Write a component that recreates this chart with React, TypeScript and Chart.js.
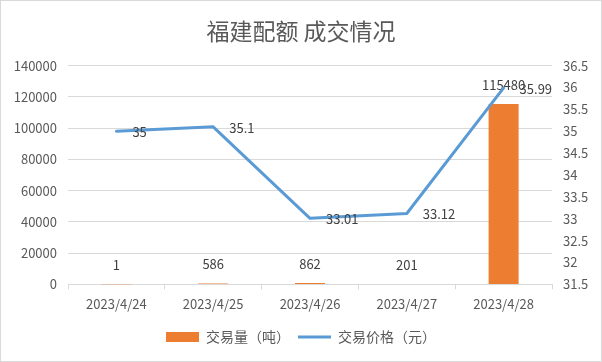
import React, { useEffect, useRef } from "react";
import { Chart, registerables } from "chart.js";

Chart.register(...registerables);

const titleText = "福建配额 成交情况";
const categories = ["2023/4/24", "2023/4/25", "2023/4/26", "2023/4/27", "2023/4/28"];
const volumeLabel = "交易量（吨）";
const priceLabel = "交易价格（元）";
const volume = [1, 586, 862, 201, 115480];
const price = [35, 35.1, 33.01, 33.12, 35.99];
const leftMin = 0;
const leftMax = 140000;
const leftStep = 20000;
const rightMin = 31.5;
const rightMax = 36.5;
const rightStep = 0.5;

const FONT = "'Noto Sans CJK SC', 'Noto Sans', sans-serif";
const TEXT = "#595959";
const GRID = "#D9D9D9";

const labelPlugin = {
  id: "valueLabels",
  afterDatasetDraw(chart: any, args: any) {
    if (args.index !== 0) return;
    const ctx = chart.ctx;
    ctx.save();
    ctx.font = `13px ${FONT}`;
    ctx.fillStyle = "#404040";
    ctx.textBaseline = "middle";
    ctx.textAlign = "center";
    chart.getDatasetMeta(0).data.forEach((el: any, i: number) => {
      ctx.fillText(String(volume[i]), el.x, el.y - 19);
    });
    ctx.restore();
  },
  afterDatasetsDraw(chart: any) {
    const ctx = chart.ctx;
    ctx.save();
    ctx.font = `13px ${FONT}`;
    ctx.fillStyle = "#404040";
    ctx.textBaseline = "middle";
    ctx.textAlign = "left";
    chart.getDatasetMeta(1).data.forEach((el: any, i: number) => {
      ctx.fillText(String(price[i]), el.x + 16, el.y + 1);
    });
    ctx.restore();
  },
};

export default function App() {
  const ref = useRef<HTMLCanvasElement>(null);
  useEffect(() => {
    const chart = new Chart(ref.current as HTMLCanvasElement, {
      type: "bar",
      data: {
        labels: categories,
        datasets: [
          {
            type: "bar",
            label: volumeLabel,
            data: volume,
            backgroundColor: "#ED7D31",
            borderWidth: 0,
            yAxisID: "y",
            barPercentage: 0.31,
            categoryPercentage: 1,
            pointStyle: "rect",
            order: 1,
          } as any,
          {
            type: "line",
            label: priceLabel,
            data: price,
            borderColor: "#5B9BD5",
            backgroundColor: "#5B9BD5",
            borderWidth: 3,
            pointRadius: 0,
            pointStyle: "line",
            tension: 0,
            borderJoinStyle: "round",
            borderCapStyle: "round",
            yAxisID: "y1",
            order: 0,
          } as any,
        ],
      },
      options: {
        responsive: false,
        animation: false,
        events: [],
        layout: { padding: { left: 0, right: 0, top: 0, bottom: 7 } },
        plugins: {
          title: {
            display: true,
            text: titleText,
            color: TEXT,
            font: { family: FONT, size: 23, weight: "normal" },
            padding: { top: 16, bottom: 21 },
          },
          legend: {
            display: true,
            position: "bottom",
            labels: {
              usePointStyle: true,
              pointStyleWidth: 33,
              boxHeight: 10,
              color: TEXT,
              font: { family: FONT, size: 14 },
              padding: 8,
              sort: (a: any, b: any) => a.datasetIndex - b.datasetIndex,
            },
          },
          tooltip: { enabled: false },
        },
        scales: {
          x: {
            offset: true,
            grid: {
              display: true,
              drawOnChartArea: false,
              drawTicks: true,
              tickLength: 5,
              color: GRID,
              offset: true,
            },
            border: { display: true, color: GRID },
            ticks: { color: TEXT, font: { family: FONT, size: 13 }, padding: 7, maxRotation: 0 },
            afterFit: (s: any) => {
              s.height = s.height + 3;
            },
          },
          y: {
            position: "left",
            min: leftMin,
            max: leftMax,
            grid: { color: GRID, drawTicks: false },
            border: { display: false },
            ticks: {
              stepSize: leftStep,
              color: TEXT,
              font: { family: FONT, size: 13 },
              padding: 11,
              callback: (v: any) => String(v),
            },
            afterFit: (s: any) => {
              s.width = 67;
            },
          },
          y1: {
            position: "right",
            min: rightMin,
            max: rightMax,
            grid: { drawOnChartArea: false, drawTicks: false },
            border: { display: false },
            ticks: {
              stepSize: rightStep,
              color: TEXT,
              font: { family: FONT, size: 13 },
              padding: 11,
              callback: (v: any) => String(v),
            },
            afterFit: (s: any) => {
              s.width = 49;
            },
          },
        },
      } as any,
      plugins: [labelPlugin],
    });
    return () => chart.destroy();
  }, []);
  return (
    <div
      style={{
        position: "absolute",
        left: 0,
        top: 0,
        width: 602,
        height: 362,
        boxSizing: "border-box",
        border: "1px solid #D9D9D9",
        background: "#fff",
      }}
    >
      <canvas ref={ref} width={600} height={360} style={{ display: "block", width: 600, height: 360 }} />
    </div>
  );
}
